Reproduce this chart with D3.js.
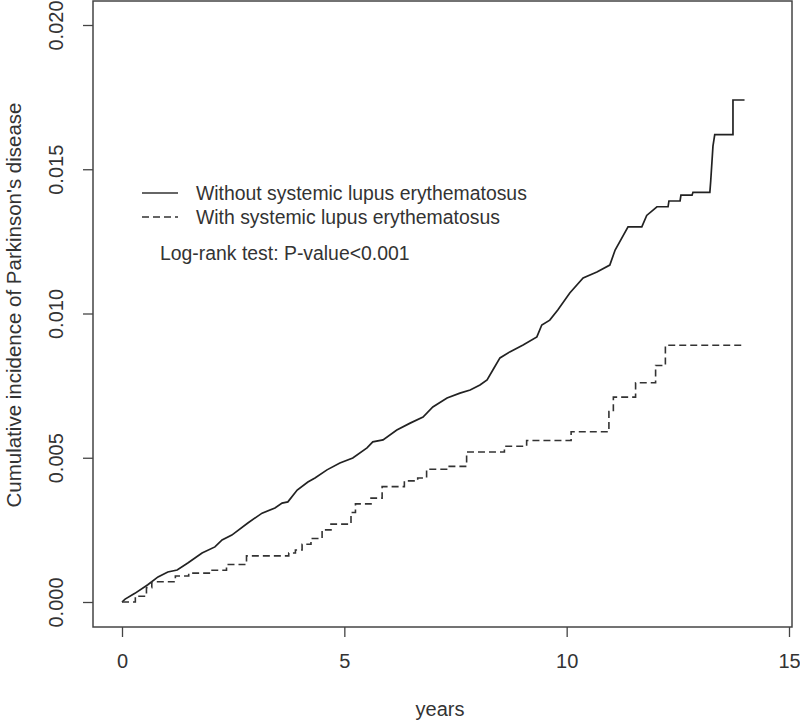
<!DOCTYPE html>
<html>
<head>
<meta charset="utf-8">
<script src="https://cdn.jsdelivr.net/npm/d3@7"></script>
<style>
  body { margin: 0; background: #fff; }
  text { font-family: "Liberation Sans", Arial, sans-serif; fill: #333; }
</style>
</head>
<body>
<div id="chart"></div>
<script>
// cumulative incidence
// without SLE: many tiny steps, so the readings are joined straight; late steps keep both corners
var withoutTimes = [0, 0.07, 0.29, 0.58, 0.81, 1.03, 1.24, 1.48, 1.8, 2.09, 2.25, 2.47, 2.83, 3.15, 3.44, 3.6, 3.73, 3.94, 4.18, 4.34, 4.61, 4.9, 5.19, 5.51, 5.64, 5.87, 6.18, 6.48, 6.77, 6.99, 7.31, 7.6, 7.83, 8.05, 8.21, 8.34, 8.5, 8.72, 9.02, 9.33, 9.44, 9.62, 9.8, 10.07, 10.37, 10.68, 10.97, 11.09, 11.38, 11.69, 11.8, 12.03, 12.28, 12.3, 12.55, 12.57, 12.82, 12.84, 13.22, 13.24, 13.29, 13.33, 13.74, 13.74, 14.0]
var withoutValues = [0, 0.0001, 0.0003, 0.0006, 0.00087, 0.00104, 0.00111, 0.00135, 0.0017, 0.00191, 0.00215, 0.00232, 0.00274, 0.00308, 0.00326, 0.00343, 0.00347, 0.00388, 0.00416, 0.0043, 0.00458, 0.00482, 0.00499, 0.00534, 0.00555, 0.00562, 0.00596, 0.0062, 0.00641, 0.00676, 0.00707, 0.00724, 0.00735, 0.00752, 0.0077, 0.00804, 0.00846, 0.00867, 0.00891, 0.00919, 0.0096, 0.00977, 0.01012, 0.01071, 0.01123, 0.01144, 0.01168, 0.0122, 0.013, 0.0130, 0.0134, 0.0137, 0.0137, 0.0139, 0.0139, 0.0141, 0.0141, 0.0142, 0.0142, 0.0146, 0.0158, 0.0162, 0.0162, 0.0174, 0.0174]

// with SLE: drawn as a step function
var withTimes = [0, 0.3, 0.55, 0.67, 1.2, 1.5, 2.0, 2.35, 2.8, 3.75, 3.9, 4.05, 4.25, 4.5, 4.7, 5.15, 5.25, 5.6, 5.85, 6.35, 6.65, 6.85, 7.3, 7.75, 8.6, 9.1, 10.1, 10.95, 11.05, 11.55, 12.0, 12.22, 14.0]
var withValues = [0, 0.0002, 0.0005, 0.0007, 0.0009, 0.0010, 0.0011, 0.0013, 0.0016, 0.0017, 0.0018, 0.0020, 0.0022, 0.0025, 0.0027, 0.0031, 0.0034, 0.0036, 0.0040, 0.0042, 0.0043, 0.0046, 0.0047, 0.0052, 0.0054, 0.0056, 0.0059, 0.0066, 0.0071, 0.0076, 0.0082, 0.0089, 0.0089]

var xTicks = [0, 5, 10, 15]
var yTicks = [0, 0.005, 0.010, 0.015, 0.020]
var legendLabels = ["Without systemic lupus erythematosus", "With systemic lupus erythematosus"]
var pText = "Log-rank test: P-value<0.001"

var width = 800
var height = 725

var svg = d3.select("#chart")
  .append("svg")
    .attr("width", width)
    .attr("height", height)

var x = d3.scaleLinear().domain([0, 15]).range([122, 789])
var y = d3.scaleLinear().domain([0, 0.02]).range([602, 25])

// plot box
svg.append("rect")
  .attr("x", 93).attr("y", 1)
  .attr("width", 699).attr("height", 626)
  .attr("fill", "none")
  .attr("stroke", "#444")
  .attr("stroke-width", 1.5)

// x axis
var xAxis = svg.append("g")
  .attr("transform", "translate(0,627)")
  .call(d3.axisBottom(x).tickValues(xTicks).tickSize(10).tickPadding(17).tickFormat(d3.format("d")))
xAxis.select(".domain").remove()
xAxis.selectAll("line").attr("stroke", "#444").attr("stroke-width", 1.3)
xAxis.selectAll("text").attr("font-size", 20).attr("fill", "#333")
  .attr("font-family", "Liberation Sans, Arial, sans-serif")

// y axis, labels rotated like in R
var yAxis = svg.append("g")
  .attr("transform", "translate(93,0)")
  .call(d3.axisLeft(y).tickValues(yTicks).tickSize(10).tickFormat(d3.format(".3f")))
yAxis.select(".domain").remove()
yAxis.selectAll("line").attr("stroke", "#444").attr("stroke-width", 1.3)
yAxis.selectAll("text")
  .attr("x", null).attr("dy", null)
  .attr("font-size", 20).attr("fill", "#333")
  .attr("font-family", "Liberation Sans, Arial, sans-serif")
  .attr("text-anchor", "middle")
  .attr("transform", "translate(-30,0) rotate(-90)")

svg.append("text")
  .attr("transform", "translate(21,305) rotate(-90)")
  .attr("text-anchor", "middle")
  .attr("font-size", 20.5)
  .text("Cumulative incidence of Parkinson's disease")

svg.append("text")
  .attr("x", 440).attr("y", 716)
  .attr("text-anchor", "middle")
  .attr("font-size", 20)
  .text("years")

var solidLine = d3.line()
  .x(function(d) { return x(d[0]); })
  .y(function(d) { return y(d[1]); })

var stepLine = d3.line()
  .x(function(d) { return x(d[0]); })
  .y(function(d) { return y(d[1]); })
  .curve(d3.curveStepAfter)

var solidData = d3.zip(withoutTimes, withoutValues)
var dashedData = d3.zip(withTimes, withValues)

svg.append("path")
  .datum(solidData)
  .attr("d", solidLine)
  .attr("fill", "none")
  .attr("stroke", "#222")
  .attr("stroke-width", 1.7)

svg.append("path")
  .datum(dashedData)
  .attr("d", stepLine)
  .attr("fill", "none")
  .attr("stroke", "#333")
  .attr("stroke-width", 1.6)
  .attr("stroke-dasharray", "7,4")

// legend
var legend = svg.append("g")
legendLabels.forEach(function(lbl, i) {
  var ly = 193 + i * 24
  legend.append("line")
    .attr("x1", 142).attr("x2", 178)
    .attr("y1", ly).attr("y2", ly)
    .attr("stroke", "#333")
    .attr("stroke-width", 1.4)
    .attr("stroke-dasharray", i == 0 ? null : "7,4")
  legend.append("text")
    .attr("x", 196).attr("y", ly + 7)
    .attr("font-size", 19.4)
    .text(lbl)
})
legend.append("text")
  .attr("x", 160).attr("y", 260)
  .attr("font-size", 19.4)
  .text(pText)
</script>
</body>
</html>
